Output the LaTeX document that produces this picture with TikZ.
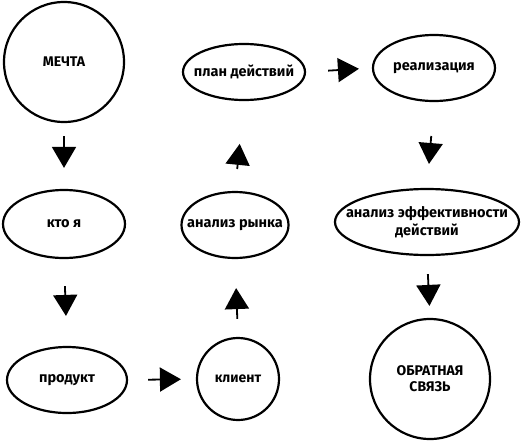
\documentclass[tikz,border=0pt]{standalone}
\usepackage{fontspec}
\setmainfont{Fira Sans}
\usetikzlibrary{shapes.geometric}
\usetikzlibrary{arrows.meta}

% текст нулевой ширины: размер овала задают только minimum width/height
\newcommand{\zw}[1]{\makebox[0pt]{#1}}

\begin{document}
\begin{tikzpicture}[x=1pt, y=-1pt]
        % ================= стили =================
        \tikzset{
            % круг: белый фон, толстая черная граница
            bubble/.style={circle, draw=black, line width=2.2pt, fill=white, inner sep=0pt, align=center,
                font=\fontsize{14}{16}\selectfont\bfseries},
            % овал
            oval/.style={ellipse, draw=black, line width=2.2pt, fill=white, inner sep=0pt, align=center,
                font=\fontsize{14.5}{18}\selectfont\bfseries},
            % короткая стрелка с большим треугольным наконечником
            step_arrow/.style={line width=1.8pt, -{Triangle[length=21pt, width=24pt]}}
        }
        \useasboundingbox (0,0) rectangle (530,442);

        % ================= узлы =================
        \node[bubble, minimum size=120pt] (dream) at (64,62) {МЕЧТА};
        \node[oval, minimum width=122pt, minimum height=68pt] (who) at (64,224) {\zw{кто я}};
        \node[oval, minimum width=120pt, minimum height=66pt] (product) at (67,380) {\zw{продукт}};
        \node[bubble, minimum size=82pt] (client) at (238,379) {\zw{клиент}};
        \node[oval, minimum width=107pt, minimum height=66pt] (market) at (235,225) {\zw{анализ рынка}};
        \node[oval, minimum width=122pt, minimum height=56pt] (plan) at (244,72) {\zw{план действий}};
        \node[oval, minimum width=122pt, minimum height=66pt] (real) at (434,68) {\zw{реализация}};
        \node[oval, minimum width=184pt, minimum height=66pt] (eff) at (427,222) {\zw{анализ эффективности}\\\zw{действий}};
        \node[bubble, minimum size=120pt] (feedback) at (430,379) {ОБРАТНАЯ\\СВЯЗЬ};

        % ================= стрелки =================
        \draw[step_arrow, shorten <=13pt, shorten >=21pt] (dream.south) -- (who.north);
        \draw[step_arrow, shorten <=27pt, shorten >=30pt] (who.south) -- (product.north);
        \draw[step_arrow, shorten <=20pt, shorten >=15pt] (product.east) -- (client.west);
        \draw[step_arrow, shorten <=18pt, shorten >=29pt] (client.north) -- (market.south);
        \draw[step_arrow, shorten <=22pt, shorten >=43pt] (market.north) -- (plan.south);
        \draw[step_arrow, shorten <=22pt, shorten >=13pt] (plan.east) -- (real.west);
        \draw[step_arrow, shorten <=34pt, shorten >=24pt] (real.south) -- (eff.north);
        \draw[step_arrow, shorten <=18pt, shorten >=12pt] (eff.south) -- (feedback.north);

\end{tikzpicture}
\end{document}
